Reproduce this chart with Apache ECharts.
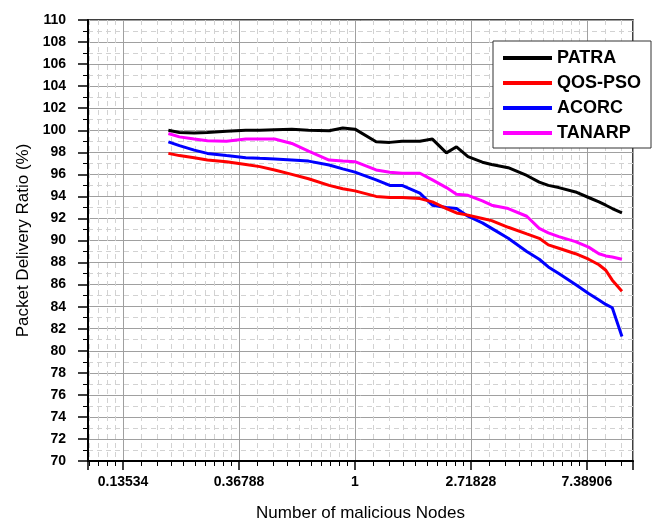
<!DOCTYPE html>
<html>
<head>
<meta charset="utf-8">
<script src="https://cdn.jsdelivr.net/npm/echarts@6/dist/echarts.min.js"></script>
<style>
  html, body { margin: 0; padding: 0; background: #fff; }
  #chart { width: 661px; height: 524px; }
</style>
</head>
<body>
<div id="chart"></div>
<script>
var chartDom = document.getElementById('chart');
var myChart = echarts.init(chartDom);
var option;

// x = number of malicious nodes (log base e axis)
var xNodes = [0.2, 0.22, 0.25, 0.28, 0.33, 0.39, 0.44, 0.5, 0.58, 0.67, 0.8, 0.9, 1.0,
  1.2, 1.35, 1.5, 1.75, 1.95, 2.2, 2.4, 2.65, 3.0, 3.25, 3.75, 4.4, 4.9, 5.3, 5.8,
  6.7, 7.5, 8.2, 8.7, 9.2, 10];

var patra = [100.0, 99.8, 99.75, 99.8, 99.9, 100.0, 100.0, 100.05, 100.1, 100.0, 99.95, 100.2, 100.1,
  98.95, 98.9, 99.0, 99.0, 99.2, 97.95, 98.5, 97.6, 97.1, 96.9, 96.6, 95.9, 95.3, 95.0, 94.8,
  94.4, 93.9, 93.5, 93.2, 92.9, 92.5];
var qosPso = [97.9, 97.7, 97.5, 97.3, 97.15, 96.9, 96.7, 96.4, 96.0, 95.6, 95.0, 94.7, 94.5,
  94.0, 93.9, 93.9, 93.8, 93.5, 92.9, 92.5, 92.3, 92.0, 91.8, 91.2, 90.6, 90.2, 89.6, 89.3,
  88.8, 88.3, 87.8, 87.3, 86.4, 85.4];
var acorc = [98.95, 98.6, 98.2, 97.9, 97.7, 97.5, 97.45, 97.4, 97.3, 97.2, 96.85, 96.5, 96.2,
  95.5, 95.0, 95.0, 94.3, 93.2, 93.0, 92.9, 92.2, 91.6, 91.1, 90.2, 89.0, 88.3, 87.6, 87.0,
  86.0, 85.2, 84.6, 84.2, 83.9, 81.3];
var tanarp = [99.7, 99.4, 99.2, 99.05, 99.0, 99.2, 99.2, 99.2, 98.8, 98.1, 97.3, 97.2, 97.15,
  96.4, 96.2, 96.1, 96.1, 95.5, 94.8, 94.2, 94.1, 93.6, 93.2, 92.9, 92.2, 91.1, 90.7, 90.35,
  89.9, 89.4, 88.8, 88.6, 88.5, 88.3];

var seriesNames = ['PATRA', 'QOS-PSO', 'ACORC', 'TANARP'];
var seriesColors = ['#000000', '#ff0000', '#0000ff', '#ff00ff'];
var seriesValues = [patra, qosPso, acorc, tanarp];

var xTickLabels = ['0.13534', '0.36788', '1', '2.71828', '7.38906'];

var font = 'Arial, "Liberation Sans", sans-serif';

function pairs(ys) {
  var out = [];
  for (var i = 0; i < xNodes.length; i++) out.push([xNodes[i], ys[i]]);
  return out;
}

var series = [];
for (var s = 0; s < seriesNames.length; s++) {
  series.push({
    name: seriesNames[s],
    type: 'line',
    data: pairs(seriesValues[s]),
    symbol: 'none',
    smooth: false,
    lineStyle: { color: seriesColors[s], width: 3 },
    itemStyle: { color: seriesColors[s] },
    z: 10 - s
  });
}

option = {
  backgroundColor: '#fff',
  animation: false,
  grid: {
    left: 88, right: 28, top: 20, bottom: 63,
    outerBoundsMode: 'none',
    containLabel: false,
    show: true,
    borderColor: '#000',
    borderWidth: 1.5
  },
  legend: {
    orient: 'vertical',
    left: 493,
    top: 41,
    padding: [8, 10, 6, 10],
    itemGap: 7,
    itemWidth: 49,
    itemHeight: 4,
    icon: 'rect',
    backgroundColor: '#fff',
    borderColor: '#333',
    borderWidth: 1,
    borderRadius: 0,
    textStyle: { fontFamily: font, fontSize: 18, fontWeight: 'bold', color: '#000', lineHeight: 18 },
    data: seriesNames
  },
  xAxis: {
    type: 'log',
    logBase: Math.E,
    min: 0.1,
    max: 11,
    name: 'Number of malicious Nodes',
    nameLocation: 'middle',
    nameGap: 44,
    nameTextStyle: { fontFamily: font, fontSize: 17, color: '#000' },
    axisLine: { show: true, lineStyle: { color: '#000', width: 2 } },
    axisTick: { show: true, inside: false, length: 9, lineStyle: { color: '#000', width: 1.5 } },
    minorTick: { show: true, splitNumber: 10, length: 5, lineStyle: { color: '#000', width: 1 } },
    axisLabel: {
      showMinLabel: false,
      showMaxLabel: false,
      margin: 14,
      fontFamily: font, fontSize: 14, fontWeight: 'bold', color: '#000',
      formatter: function (v) {
        var l = Math.log(v);
        var k = Math.round(l);
        if (Math.abs(l - k) > 0.01) return '';
        return xTickLabels[k + 2] || '';
      }
    },
    splitLine: { show: true, lineStyle: { color: '#a0a0a0', width: 1 } },
    minorSplitLine: { show: true, lineStyle: { color: '#d2d2d2', width: 1, type: [5, 4] } }
  },
  yAxis: {
    type: 'value',
    min: 70,
    max: 110,
    interval: 2,
    name: 'Packet Delivery Ratio (%)',
    nameLocation: 'middle',
    nameGap: 53,
    nameTextStyle: { fontFamily: font, fontSize: 17, color: '#000' },
    axisLine: { show: true, lineStyle: { color: '#000', width: 2 } },
    axisTick: { show: true, inside: false, length: 10, lineStyle: { color: '#000', width: 1.5 } },
    minorTick: { show: true, splitNumber: 2, length: 5, lineStyle: { color: '#000', width: 1 } },
    axisLabel: { margin: 22, fontFamily: font, fontSize: 14, fontWeight: 'bold', color: '#000' },
    splitLine: { show: true, lineStyle: { color: '#a0a0a0', width: 1 } },
    minorSplitLine: { show: true, lineStyle: { color: '#d2d2d2', width: 1, type: [5, 4] } }
  },
  series: series
};

option && myChart.setOption(option);
</script>
</body>
</html>
